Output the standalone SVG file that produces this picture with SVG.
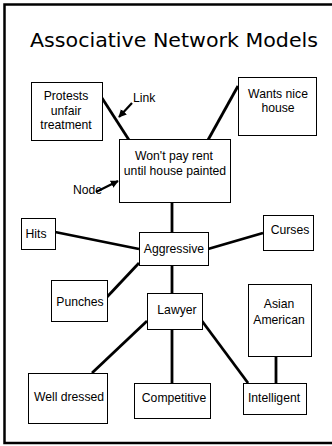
<svg xmlns="http://www.w3.org/2000/svg" width="332" height="446" viewBox="0 0 332 446">
<style>
.box{fill:#fff;stroke:#000;stroke-width:1}
.t{font-family:"Liberation Sans",Arial,sans-serif;font-size:12.2px;fill:#000;text-anchor:middle}
.l{font-family:"Liberation Sans",Arial,sans-serif;font-size:12.2px;fill:#000}
.c{stroke:#000;stroke-width:2.8;fill:none;stroke-linecap:butt}
.a{stroke:#000;stroke-width:2.2;fill:none}
.title{font-family:"DejaVu Sans",sans-serif;font-size:20px;fill:#000;text-anchor:middle}
</style>
<defs>
<marker id="ah" viewBox="0 0 10 10" refX="9" refY="5" markerWidth="8" markerHeight="8" orient="auto" markerUnits="userSpaceOnUse">
<path d="M0,0 L10,5 L0,10 z" fill="#000"/>
</marker>
</defs>
<rect x="0" y="0" width="332" height="446" fill="#fff"/>
<rect x="4.5" y="4.5" width="340" height="438.5" fill="none" stroke="#000" stroke-width="2.5"/>
<text class="title" x="174" y="47" textLength="288" lengthAdjust="spacingAndGlyphs">Associative Network Models</text>

<g id="connectors">
<line class="c" x1="102" y1="98" x2="129" y2="140"/>
<line class="c" x1="238" y1="86" x2="208" y2="140"/>
<line class="c" x1="172" y1="202" x2="172" y2="232"/>
<line class="c" x1="55" y1="232" x2="139" y2="249"/>
<line class="c" x1="263" y1="233" x2="208" y2="249"/>
<line class="c" x1="139" y1="263" x2="107" y2="297"/>
<line class="c" x1="172" y1="265" x2="172" y2="293"/>
<line class="c" x1="147" y1="321" x2="92" y2="373"/>
<line class="c" x1="172" y1="329" x2="172" y2="383"/>
<line class="c" x1="202" y1="321" x2="248" y2="383"/>
<line class="c" x1="276" y1="356" x2="276" y2="383"/>
<line class="a" x1="132" y1="103" x2="119" y2="117" marker-end="url(#ah)"/>
<line class="a" x1="96" y1="192" x2="118" y2="181" marker-end="url(#ah)"/>
</g>
<text class="l" x="133" y="102">Link</text>
<text class="l" x="73" y="194">Node</text>

<g id="protests">
<rect class="box" x="31.5" y="82.5" width="71" height="58"/>
<text class="t" x="66" y="100">Protests</text>
<text class="t" x="66" y="115">unfair</text>
<text class="t" x="66" y="129">treatment</text>
</g>
<g id="wants">
<rect class="box" x="238.5" y="77.5" width="78" height="58"/>
<text class="t" x="278" y="98">Wants nice</text>
<text class="t" x="278" y="112">house</text>
</g>
<g id="wontpay">
<rect class="box" x="119.5" y="139.5" width="111" height="63"/>
<text class="t" x="174" y="160">Won't pay rent</text>
<text class="t" x="175" y="175">until house painted</text>
</g>
<g id="hits">
<rect class="box" x="21.5" y="218.5" width="34" height="31"/>
<text class="t" x="36" y="238">Hits</text>
</g>
<g id="aggressive">
<rect class="box" x="139.5" y="232.5" width="69" height="33"/>
<text class="t" x="174" y="253">Aggressive</text>
</g>
<g id="curses">
<rect class="box" x="263.5" y="215.5" width="50" height="35"/>
<text class="t" x="290" y="234">Curses</text>
</g>
<g id="punches">
<rect class="box" x="51.5" y="280.5" width="56" height="41"/>
<text class="t" x="80" y="306">Punches</text>
</g>
<g id="lawyer">
<rect class="box" x="147.5" y="293.5" width="55" height="36"/>
<text class="t" x="177" y="314">Lawyer</text>
</g>
<g id="asian">
<rect class="box" x="248.5" y="284.5" width="63" height="72"/>
<text class="t" x="279" y="308">Asian</text>
<text class="t" x="279" y="324">American</text>
</g>
<g id="welldressed">
<rect class="box" x="28.5" y="373.5" width="79" height="50"/>
<text class="t" x="69" y="401">Well dressed</text>
</g>
<g id="competitive">
<rect class="box" x="134.5" y="383.5" width="76" height="35"/>
<text class="t" x="174" y="402">Competitive</text>
</g>
<g id="intelligent">
<rect class="box" x="243.5" y="383.5" width="63" height="31"/>
<text class="t" x="274" y="402">Intelligent</text>
</g>
</svg>
